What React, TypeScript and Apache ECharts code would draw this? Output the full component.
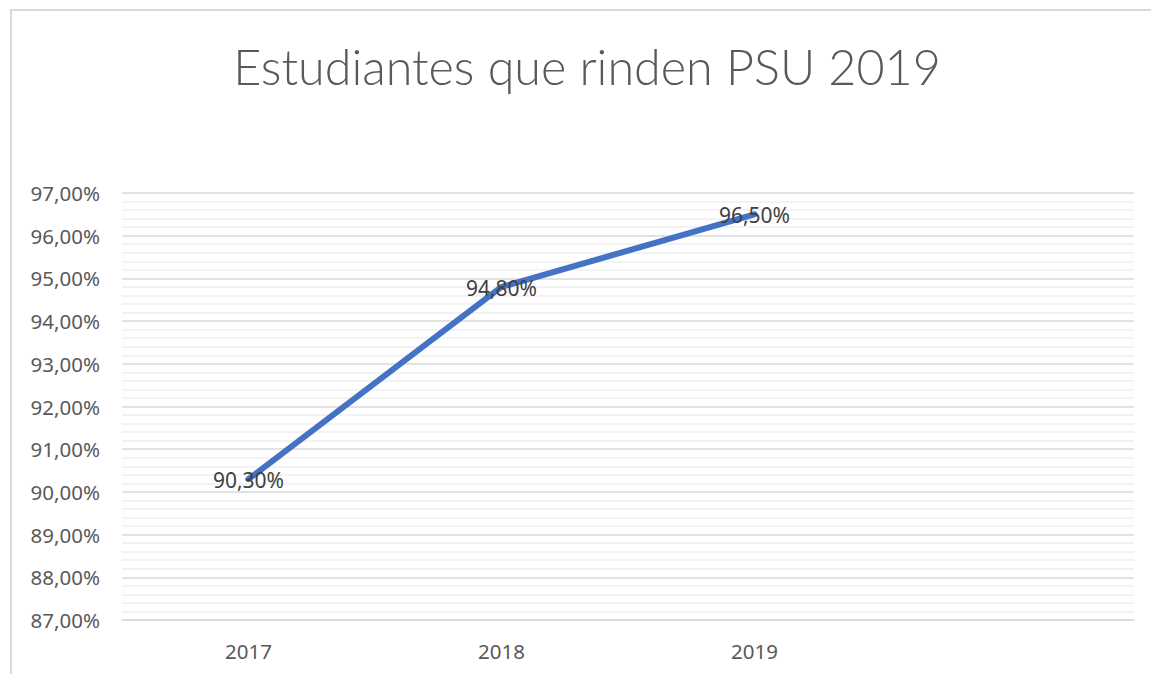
import React, { useEffect, useRef } from "react";
import * as echarts from "echarts";

const categories = ["2017", "2018", "2019", ""];
const values = [90.3, 94.8, 96.5];
const titleText = "Estudiantes que rinden PSU 2019";
const yMin = 87;
const yMax = 97;
const yInterval = 1;

const fmt = (v: number) => v.toFixed(2).replace(".", ",") + "%";

export default function App() {
  const ref = useRef<HTMLDivElement>(null);
  useEffect(() => {
    if (!ref.current) return;
    const chart = echarts.init(ref.current, null, { renderer: "svg" });
    chart.setOption({
      animation: false,
      backgroundColor: "#ffffff",
      graphic: [
        {
          type: "rect",
          shape: { x: 11, y: 10, width: 1300, height: 800 },
          style: { fill: "none", stroke: "#d9d9d9", lineWidth: 2 },
          silent: true,
        },
        {
          type: "text",
          x: 587,
          y: 66,
          style: {
            text: titleText,
            fill: "#595959",
            font: "300 48.5px Lato",
            textAlign: "center",
            textVerticalAlign: "middle",
          },
        },
      ],
      grid: { left: 122, right: 17, top: 193, bottom: 54 },
      xAxis: {
        type: "category",
        data: categories,
        boundaryGap: true,
        axisLine: { show: true, lineStyle: { color: "#d9d9d9", width: 1.5 } },
        axisTick: { show: false },
        axisLabel: {
          color: "#595959",
          fontFamily: "Noto Sans",
          fontSize: 20.5,
          margin: 20,
        },
      },
      yAxis: {
        type: "value",
        min: yMin,
        max: yMax,
        interval: yInterval,
        axisLine: { show: false },
        axisTick: { show: false },
        axisLabel: {
          color: "#595959",
          fontFamily: "Noto Sans",
          fontSize: 20.5,
          margin: 22,
          formatter: (v: number) => fmt(v),
        },
        splitLine: { show: true, lineStyle: { color: "#d9d9d9", width: 1.5 } },
        minorTick: { show: false, splitNumber: 5 },
        minorSplitLine: { show: true, lineStyle: { color: "#efefef", width: 1.5 } },
      },
      series: [
        {
          type: "line",
          data: values,
          symbol: "circle",
          symbolSize: 2,
          showSymbol: true,
          itemStyle: { color: "#4472C4" },
          lineStyle: { color: "#4472C4", width: 6, cap: "round", join: "round" },
          label: {
            show: true,
            position: "inside",
            color: "#404040",
            fontFamily: "Noto Sans",
            fontSize: 21,
            offset: [0, 1],
            formatter: (p: any) => fmt(p.value),
          },
        },
      ],
    });
    return () => chart.dispose();
  }, []);
  return (
    <div
      ref={ref}
      style={{ position: "fixed", left: 0, top: 0, width: 1151, height: 674 }}
    />
  );
}
